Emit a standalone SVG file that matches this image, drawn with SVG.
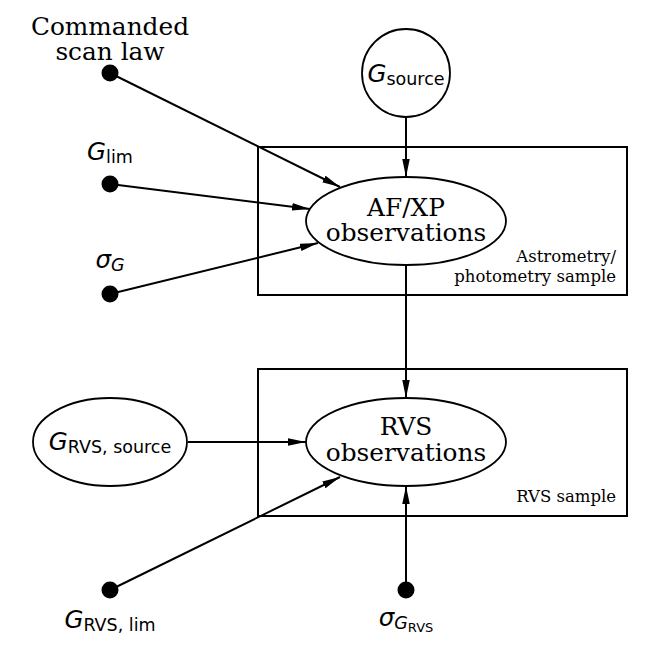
<svg xmlns="http://www.w3.org/2000/svg" width="664" height="664" viewBox="0 0 664 664">
<style>
.bg{fill:#fff}
.node{fill:#fff;stroke:#000;stroke-width:1.8}
.plate{fill:none;stroke:#000;stroke-width:2}
.dot{fill:#000}
.edge{stroke:#000;stroke-width:2;fill:none;marker-end:url(#arr)}
.serif{font-family:"DejaVu Serif","Liberation Serif",serif;fill:#000}
.big{font-size:24.8px}
.small{font-size:16.5px}
.math{font-family:"DejaVu Sans","Liberation Sans",sans-serif;font-size:24.5px;fill:#000}
.it{font-style:italic}
.sub{font-size:17.5px}
.subsub{font-size:13px}
</style>
<defs>
<marker id="arr" viewBox="0 0 18 7.5" refX="18" refY="3.75" markerWidth="18" markerHeight="7.5" markerUnits="userSpaceOnUse" orient="auto">
<path d="M0,0 L18,3.75 L0,7.5 z" fill="#000"/>
</marker>
</defs>
<rect class="bg" x="0" y="0" width="664" height="664"/>
<g id="plate-astrometry">
<rect class="plate" x="258" y="147" width="369" height="148"/>
<text class="serif small" text-anchor="end"><tspan x="616" y="262">Astrometry/</tspan><tspan x="616" y="282">photometry sample</tspan></text>
</g>
<g id="plate-rvs">
<rect class="plate" x="258" y="369" width="369" height="147"/>
<text class="serif small" x="616" y="502" text-anchor="end">RVS sample</text>
</g>
<g id="connectors">
<line class="edge" x1="110" y1="73" x2="340" y2="187"/>
<line class="edge" x1="110" y1="184" x2="310" y2="209"/>
<line class="edge" x1="110" y1="294" x2="318" y2="243"/>
<line class="edge" x1="406" y1="117" x2="406" y2="177"/>
<line class="edge" x1="406" y1="265" x2="406" y2="398"/>
<line class="edge" x1="188" y1="442" x2="306" y2="442"/>
<line class="edge" x1="110" y1="590" x2="340" y2="477"/>
<line class="edge" x1="406" y1="590" x2="406" y2="486"/>
</g>
<g id="scan-law">
<circle class="dot" cx="110" cy="73" r="8.5"/>
<text class="serif big" text-anchor="middle"><tspan x="110" y="35">Commanded</tspan><tspan x="110" y="60">scan law</tspan></text>
</g>
<g id="G-lim">
<circle class="dot" cx="110" cy="184" r="8.5"/>
<text class="math" x="110" y="160" text-anchor="middle"><tspan class="it">G</tspan><tspan class="sub" dy="3">lim</tspan></text>
</g>
<g id="sigma-G">
<circle class="dot" cx="110" cy="294" r="8.5"/>
<text class="math" x="110" y="268" text-anchor="middle"><tspan class="it">σ</tspan><tspan class="sub it" dy="3">G</tspan></text>
</g>
<g id="G-source">
<circle class="node" cx="406" cy="73" r="44"/>
<text class="math" x="406" y="82" text-anchor="middle"><tspan class="it">G</tspan><tspan class="sub" dy="3">source</tspan></text>
</g>
<g id="afxp-obs">
<ellipse class="node" cx="406" cy="221" rx="100" ry="44"/>
<text class="serif big" text-anchor="middle"><tspan x="406" y="216">AF/XP</tspan><tspan x="406" y="241">observations</tspan></text>
</g>
<g id="G-rvs-source">
<ellipse class="node" cx="110" cy="442" rx="77" ry="44"/>
<text class="math" x="110" y="450" text-anchor="middle"><tspan class="it">G</tspan><tspan class="sub" dy="3">RVS, source</tspan></text>
</g>
<g id="rvs-obs">
<ellipse class="node" cx="406" cy="442" rx="100" ry="44"/>
<text class="serif big" text-anchor="middle"><tspan x="406" y="435">RVS</tspan><tspan x="406" y="461">observations</tspan></text>
</g>
<g id="G-rvs-lim">
<circle class="dot" cx="110" cy="590" r="8.5"/>
<text class="math" x="110" y="628" text-anchor="middle"><tspan class="it">G</tspan><tspan class="sub" dy="3">RVS, lim</tspan></text>
</g>
<g id="sigma-G-rvs">
<circle class="dot" cx="406" cy="590" r="8.5"/>
<text class="math" x="406" y="626" text-anchor="middle"><tspan class="it">σ</tspan><tspan class="sub it" dy="3">G</tspan><tspan class="subsub" dy="3">RVS</tspan></text>
</g>
</svg>
